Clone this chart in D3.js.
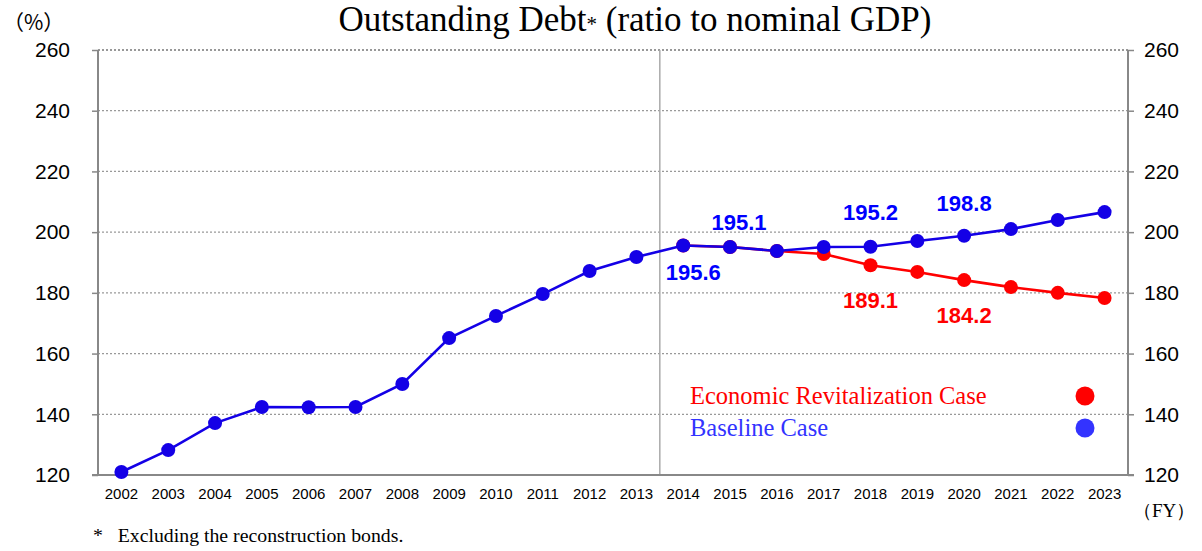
<!DOCTYPE html>
<html>
<head>
<meta charset="utf-8">
<script src="https://cdn.jsdelivr.net/npm/d3@7"></script>
<style>
  body { margin: 0; background: #fff; }
  svg { display: block; }
</style>
</head>
<body>
<svg id="chart" width="1202" height="551"></svg>
<script>
const years = ["2002", "2003", "2004", "2005", "2006", "2007", "2008", "2009", "2010", "2011", "2012",
               "2013", "2014", "2015", "2016", "2017", "2018", "2019", "2020", "2021", "2022", "2023"];
const baseline = [121.0, 128.2, 137.1, 142.4, 142.3, 142.4, 150.0, 165.1, 172.4, 179.6, 187.2,
                  191.8, 195.6, 195.1, 193.8, 195.1, 195.2, 197.1, 198.8, 201.0, 204.0, 206.6];
const revitYears = ["2014", "2015", "2016", "2017", "2018", "2019", "2020", "2021", "2022", "2023"];
const revitalization = [195.6, 195.1, 193.8, 192.8, 189.1, 186.9, 184.2, 181.9, 180.0, 178.3];
const yTicks = [120, 140, 160, 180, 200, 220, 240, 260];

// labelled points: [year, value, series, dx, dy]
const labels = [
    ["2014", 195.6, "base", 10, 34],
    ["2015", 195.1, "base", 9, -17],
    ["2018", 195.2, "base", 0, -27],
    ["2020", 198.8, "base", 0, -25],
    ["2018", 189.1, "revit", 0, 43],
    ["2020", 184.2, "revit", 0, 43]
];

const blue = "#1400e6",
      red = "#ff0000";

const svg = d3.select("#chart");
const margin = { left: 98, right: 74, top: 50, bottom: 76 };
const width = 1202 - margin.left - margin.right,
      height = 551 - margin.top - margin.bottom;

const x = d3.scaleBand().domain(years).range([0, width]);
const y = d3.scaleLinear().domain([120, 260]).range([height, 0]);
const cx = d => x(d) + x.bandwidth() / 2;

const g = svg.append("g").attr("transform", "translate(" + margin.left + "," + margin.top + ")");

// gridlines
g.append("g")
 .selectAll("line")
 .data(yTicks.filter(t => t > 120))
 .enter().append("line")
 .attr("x1", 0).attr("x2", width)
 .attr("y1", d => y(d)).attr("y2", d => y(d))
 .style("stroke", d => d === 260 ? "#777" : "#999")
 .style("stroke-width", 1.3)
 .style("stroke-dasharray", "2,2");

// divider between actual and projection
g.append("line")
 .attr("x1", x("2014")).attr("x2", x("2014"))
 .attr("y1", 0).attr("y2", height)
 .style("stroke", "#aaa").style("stroke-width", 1.5);

// left axis
const left = g.append("g")
              .call(d3.axisLeft(y).tickValues(yTicks).tickSize(6).tickPadding(22));
left.select(".domain").remove();
left.append("line").attr("y1", 0).attr("y2", height).style("stroke", "#888").style("stroke-width", 2);
left.selectAll(".tick line").style("stroke", "#888").style("stroke-width", 1.5);
left.selectAll("text")
    .style("font-family", "'Liberation Sans', Arial, sans-serif")
    .style("font-size", "21px").style("fill", "#000");

// right axis
const right = g.append("g")
               .attr("transform", "translate(" + width + ",0)")
               .call(d3.axisRight(y).tickValues(yTicks).tickSize(6).tickPadding(10));
right.select(".domain").remove();
right.append("line").attr("y1", 0).attr("y2", height).style("stroke", "#888").style("stroke-width", 2);
right.selectAll(".tick line").style("stroke", "#888").style("stroke-width", 1.5);
right.selectAll("text")
     .style("font-family", "'Liberation Sans', Arial, sans-serif")
     .style("font-size", "21px").style("fill", "#000");

// bottom axis
const bottom = g.append("g")
                .attr("transform", "translate(0," + height + ")")
                .call(d3.axisBottom(x).tickSize(0).tickPadding(13));
bottom.select(".domain").remove();
bottom.append("line").attr("x1", -6).attr("x2", width + 6).style("stroke", "#888").style("stroke-width", 2);
bottom.selectAll("text")
      .style("font-family", "'Liberation Sans', Arial, sans-serif")
      .style("font-size", "15px").style("fill", "#000");

const line = d3.line().x(d => cx(d[0])).y(d => y(d[1]));

function drawSeries(cats, vals, colour) {
    const pts = cats.map((c, i) => [c, vals[i]]);
    g.append("path")
     .datum(pts)
     .attr("d", line)
     .style("fill", "none")
     .style("stroke", colour)
     .style("stroke-width", 2.6);
    g.append("g")
     .selectAll("circle")
     .data(pts)
     .enter().append("circle")
     .attr("cx", d => cx(d[0]))
     .attr("cy", d => y(d[1]))
     .attr("r", 7)
     .style("fill", colour);
}

drawSeries(revitYears, revitalization, red);
drawSeries(years, baseline, blue);

// data labels
g.append("g")
 .selectAll("text")
 .data(labels)
 .enter().append("text")
 .attr("x", d => cx(d[0]) + d[3])
 .attr("y", d => y(d[1]) + d[4])
 .attr("text-anchor", "middle")
 .text(d => d[1].toFixed(1))
 .style("font-family", "'Liberation Sans', Arial, sans-serif")
 .style("font-weight", "bold")
 .style("font-size", "22px")
 .style("fill", d => d[2] === "base" ? "#0000ff" : red);

// legend
const legend = g.append("g").attr("class", "legend");
const legendItems = [
    { name: "Economic Revitalization Case", colour: red, v: 146 },
    { name: "Baseline Case", colour: "#3333ff", v: 135.5 }
];
legendItems.forEach(d => {
    legend.append("text")
          .attr("x", 592).attr("y", y(d.v) + 8)
          .text(d.name)
          .style("font-family", "'Liberation Serif', 'Times New Roman', serif")
          .style("font-size", "24.5px")
          .style("fill", d.colour);
    legend.append("circle")
          .attr("cx", 987).attr("cy", y(d.v))
          .attr("r", 9.5)
          .style("fill", d.colour);
});

// title
const title = svg.append("text")
                 .attr("x", 635).attr("y", 31)
                 .attr("text-anchor", "middle")
                 .style("font-family", "'Liberation Serif', 'Times New Roman', serif")
                 .style("font-size", "35px")
                 .style("fill", "#000");
title.append("tspan").text("Outstanding Debt");
title.append("tspan").text("*").style("font-size", "21px");
title.append("tspan").text(" (ratio to nominal GDP)");

svg.append("text")
   .attr("x", 3).attr("y", 30)
   .text("（%）")
   .style("font-family", "'Noto Sans CJK JP', sans-serif")
   .style("font-size", "21px");

svg.append("text")
   .attr("x", 1133).attr("y", 517)
   .text("（FY）")
   .style("font-family", "'Liberation Serif', serif")
   .style("font-size", "19px");

svg.append("text")
   .attr("x", 93).attr("y", 542)
   .attr("xml:space", "preserve")
   .text("*   Excluding the reconstruction bonds.")
   .style("font-family", "'Liberation Serif', 'Times New Roman', serif")
   .style("font-size", "19.8px");
</script>
</body>
</html>
